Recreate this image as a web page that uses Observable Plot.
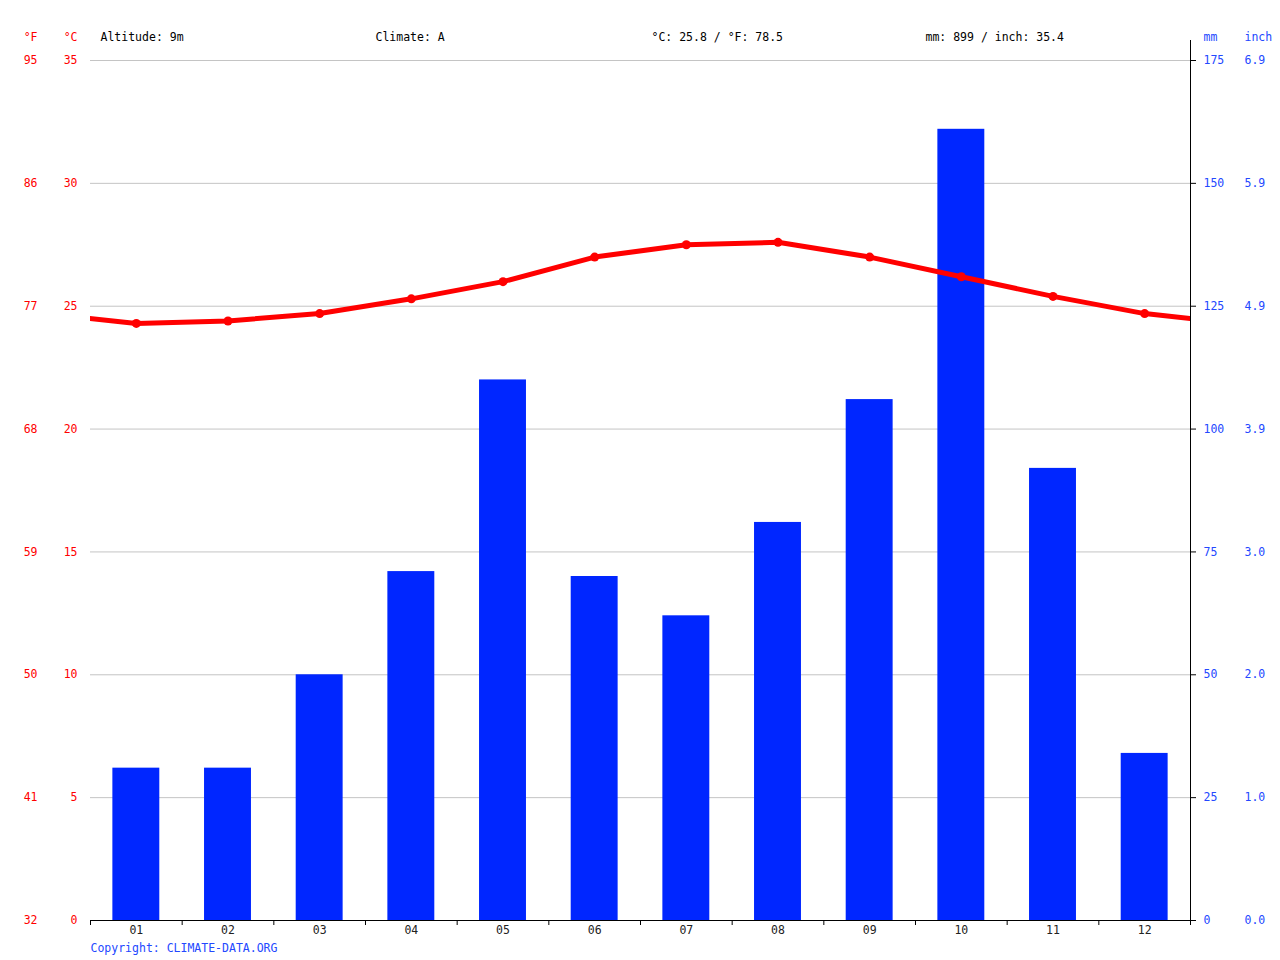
<!DOCTYPE html>
<html>
<head>
<meta charset="utf-8">
<script src="https://cdn.jsdelivr.net/npm/d3@7"></script>
<script src="https://cdn.jsdelivr.net/npm/@observablehq/plot@0.6"></script>
<style>
  html, body { margin: 0; padding: 0; background: #fff; }
  #chart svg { display: block; }
</style>
</head>
<body>
<div id="chart"></div>
<script>
const months = [1, 2, 3, 4, 5, 6, 7, 8, 9, 10, 11, 12];
const monthLabels = ["01", "02", "03", "04", "05", "06", "07", "08", "09", "10", "11", "12"];
const precipMm = [31, 31, 50, 71, 110, 70, 62, 81, 106, 161, 92, 34];
const tempC = [24.3, 24.4, 24.7, 25.3, 26.0, 27.0, 27.5, 27.6, 27.0, 26.2, 25.4, 24.7];
const cTicks = [0, 5, 10, 15, 20, 25, 30, 35];
const fTicks = [32, 41, 50, 59, 68, 77, 86, 95];
const mmTicks = [0, 25, 50, 75, 100, 125, 150, 175];
const inchTicks = ["0.0", "1.0", "2.0", "3.0", "3.9", "4.9", "5.9", "6.9"];
const headerTexts = ["Altitude: 9m", "Climate: A", "°C: 25.8 / °F: 78.5", "mm: 899 / inch: 35.4"];
const copyright = "Copyright: CLIMATE-DATA.ORG";

const RED = "#ff0000";
const BLUE = "#0026ff";
const LBLUE = "#2348ff";
const MMPERC = 5; // 175 mm <-> 35 °C

const bars = months.map((m, i) => ({m, mm: precipMm[i]}));
const temps = months.map((m, i) => ({m, t: tempC[i]}));
// wrap-around: Dec before Jan and Jan after Dec, clipped at the frame
const lineData = [{m: 0, t: tempC[11]}, ...temps, {m: 13, t: tempC[0]}];
const halfBar = 0.256;
const headerOffsets = [10, 285, 561, 835];
const monthEdges = d3.range(0.5, 13, 1);

const chart = Plot.plot({
  width: 1280,
  height: 960,
  marginLeft: 90,
  marginRight: 90,
  marginTop: 60,
  marginBottom: 40,
  style: {fontFamily: "'DejaVu Sans Mono', monospace", fontSize: "11.5px", background: "#fff"},
  x: {type: "linear", domain: [0.5, 12.5], axis: null},
  y: {type: "linear", domain: [0, 175], axis: null},
  marks: [
    Plot.gridY(mmTicks, {stroke: "#c4c4c4", strokeOpacity: 1}),
    Plot.rectY(bars, {x1: d => d.m - halfBar, x2: d => d.m + halfBar, y1: 0, y2: "mm", fill: BLUE}),
    Plot.line(lineData, {x: "m", y: d => d.t * MMPERC, stroke: RED, strokeWidth: 5, clip: true}),
    Plot.dot(temps, {x: "m", y: d => d.t * MMPERC, r: 4.5, fill: RED}),
    // bottom axis
    Plot.ruleY([0], {stroke: "#000"}),
    Plot.ruleX(monthEdges, {x: d => d, y1: 0, y2: 0, insetBottom: -5, stroke: "#000"}),
    Plot.text(months, {x: d => d, text: (d, i) => monthLabels[i], frameAnchor: "bottom", dy: 13, fill: "#222"}),
    // right axis line and ticks
    Plot.ruleX([12.5], {stroke: "#000", insetTop: -20}),
    Plot.axisY(mmTicks, {anchor: "right", tickSize: 5, tickPadding: 8, stroke: "#000", fill: LBLUE, tickFormat: d => d, label: null}),
    Plot.text(mmTicks, {y: d => d, text: (d, i) => inchTicks[i], frameAnchor: "right", dx: 54, textAnchor: "start", fill: LBLUE}),
    // left temperature labels
    Plot.text(mmTicks, {y: d => d, text: (d, i) => String(cTicks[i]), frameAnchor: "left", dx: -13, textAnchor: "end", fill: RED}),
    Plot.text(mmTicks, {y: d => d, text: (d, i) => String(fTicks[i]), frameAnchor: "left", dx: -53, textAnchor: "end", fill: RED}),
    // unit headers
    Plot.text(["°C"], {frameAnchor: "top-left", dx: -13, dy: -28, textAnchor: "end", fill: RED}),
    Plot.text(["°F"], {frameAnchor: "top-left", dx: -53, dy: -28, textAnchor: "end", fill: RED}),
    Plot.text(["mm"], {frameAnchor: "top-right", dx: 13, dy: -28, textAnchor: "start", fill: LBLUE}),
    Plot.text(["inch"], {frameAnchor: "top-right", dx: 54, dy: -28, textAnchor: "start", fill: LBLUE}),
    // header info
    ...headerTexts.map((t, i) => Plot.text([t], {frameAnchor: "top-left", dx: headerOffsets[i], dy: -28, textAnchor: "start", fill: "#000"})),
    Plot.text([copyright], {frameAnchor: "bottom-left", dy: 31, textAnchor: "start", fill: LBLUE})
  ]
});
document.getElementById("chart").appendChild(chart);
</script>
</body>
</html>
